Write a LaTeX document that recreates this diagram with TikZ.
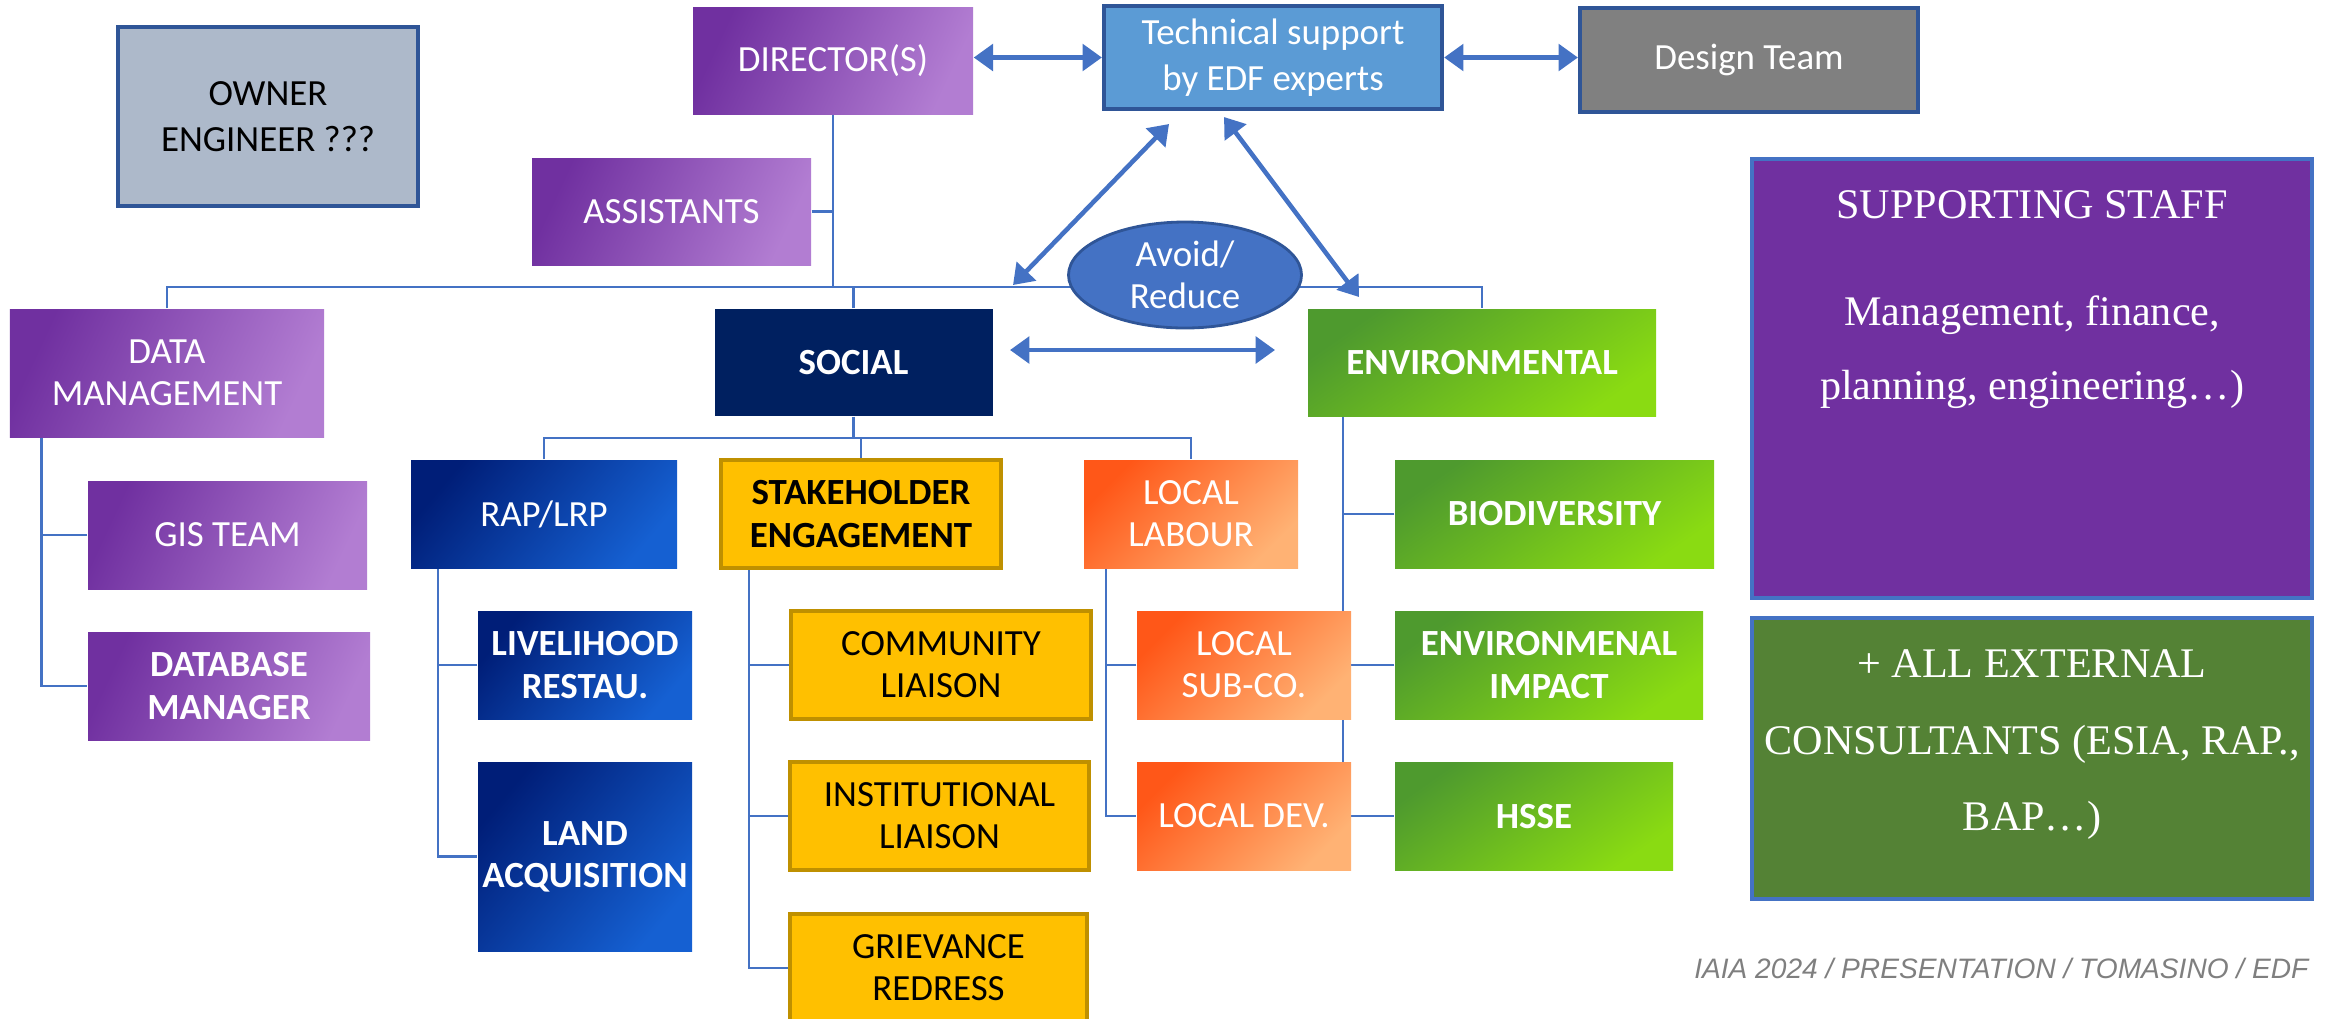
\documentclass[tikz,border=0pt]{standalone}
\usepackage{fontspec}
\setmainfont{Carlito}
\newfontfamily\serifface{Liberation Serif}
\newfontfamily\footface{Liberation Sans}
\usepackage{xcolor}
\usepackage{tikz}
\usetikzlibrary{arrows.meta, positioning, shapes.geometric, backgrounds}

\definecolor{linkblue}{HTML}{4472C4}
\definecolor{edgeblue}{HTML}{2F5597}
\definecolor{purpD}{HTML}{7030A0}
\definecolor{purpL}{HTML}{B27DD2}
\definecolor{navy}{HTML}{002060}
\definecolor{blueD}{HTML}{001E78}
\definecolor{blueL}{HTML}{1560D2}
\definecolor{greenD}{HTML}{4E9A2E}
\definecolor{greenL}{HTML}{8ADB12}
\definecolor{orangeD}{HTML}{FF5718}
\definecolor{orangeL}{HTML}{FFB274}
\definecolor{goldfill}{HTML}{FFC000}
\definecolor{goldedge}{HTML}{BF9000}
\definecolor{ownerfill}{HTML}{ADB9CA}
\definecolor{techfill}{HTML}{5B9BD5}
\definecolor{extgreen}{HTML}{548235}
\definecolor{creditgray}{HTML}{7F7F7F}

\begin{document}
\begin{tikzpicture}[
      y=-1cm,
      font=\fontsize{10.5}{12}\selectfont,
      wh/.style 2 args={minimum width=#1cm, minimum height=#2cm},
      box/.style={rectangle, align=center, inner sep=0pt, text=white},
      pbox/.style={box, left color=purpD, right color=purpL, shading angle=65},
      nbox/.style={box, fill=navy, font=\fontsize{10.5}{12}\selectfont\bfseries},
      bbox/.style={box, left color=blueD, right color=blueL, shading angle=50},
      gbox/.style={box, left color=greenD, right color=greenL, shading angle=35,
                   font=\fontsize{10.5}{12}\selectfont\bfseries},
      obox/.style={box, left color=orangeD, right color=orangeL, shading angle=45},
      ybox/.style={box, fill=goldfill, draw=goldedge, line width=1pt, text=black},
      sidebox/.style={box, draw=edgeblue, line width=1.2pt},
      bigbox/.style={rectangle, draw=linkblue, line width=1.2pt, inner sep=0pt},
      bigtext/.style={align=center, inner sep=0pt, text=white,
                      font=\serifface\fontsize{12}{21.8}\selectfont},
      link/.style={draw=linkblue, line width=0.7pt},
      arr/.style={linkblue, line width=1.3pt,
                  {Triangle[length=5.5pt, width=7.5pt]}-{Triangle[length=5.5pt, width=7.5pt]}},
  ]
  \useasboundingbox (0,0) rectangle (23.25,10.18);

  %% top row
  \node[sidebox, fill=ownerfill, text=black, wh={3.00}{1.79},
        font=\fontsize{10.5}{13}\selectfont] (owner) at (2.68,1.165) {OWNER\\ENGINEER ???};
  \node[pbox, wh={2.80}{1.07}] (director) at (8.33,0.605) {DIRECTOR(S)};
  \node[sidebox, fill=techfill, wh={3.38}{1.03},
        font=\fontsize{10.5}{13}\selectfont] (tech) at (12.73,0.575) {Technical support\\by EDF experts};
  \node[sidebox, fill=gray, wh={3.38}{1.04}] (design) at (17.49,0.60) {Design Team};
  \node[pbox, wh={2.79}{1.07}] (assist) at (6.715,2.115) {ASSISTANTS};

  %% second level
  \node[pbox, wh={3.14}{1.28}] (datamgmt) at (1.67,3.73) {DATA\\MANAGEMENT};
  \node[nbox, wh={2.78}{1.07}] (social) at (8.535,3.625) {SOCIAL};
  \node[gbox, wh={3.48}{1.07}] (env) at (14.82,3.625) {ENVIRONMENTAL};
  \node[ellipse, draw=edgeblue, fill=linkblue, line width=0.8pt, inner sep=0pt,
        text=white, align=center, wh={2.33}{1.06}] (avoid) at (11.85,2.75) {Avoid/\\Reduce};

  %% data management
  \node[pbox, wh={2.79}{1.08}] (gis) at (2.275,5.35) {GIS TEAM};
  \node[pbox, wh={2.82}{1.08}, font=\fontsize{10.5}{12}\selectfont\bfseries] (dbman) at (2.29,6.86) {DATABASE\\MANAGER};

  %% social teams
  \node[bbox, wh={2.66}{1.08}] (rap) at (5.44,5.14) {RAP/LRP};
  \node[ybox, wh={2.80}{1.08}, font=\fontsize{10.5}{12}\selectfont\bfseries] (stake) at (8.61,5.14) {STAKEHOLDER\\ENGAGEMENT};
  \node[obox, wh={2.14}{1.08}] (labour) at (11.91,5.14) {LOCAL\\LABOUR};
  \node[bbox, wh={2.14}{1.08}, font=\fontsize{10.5}{12}\selectfont\bfseries] (livelihood) at (5.85,6.65) {LIVELIHOOD\\RESTAU.};
  \node[bbox, wh={2.14}{1.89}, font=\fontsize{10.5}{12}\selectfont\bfseries] (landacq) at (5.85,8.565) {LAND\\ACQUISITION};
  \node[ybox, wh={3.00}{1.08}] (community) at (9.41,6.65) {COMMUNITY\\LIAISON};
  \node[ybox, wh={2.99}{1.08}] (institutional) at (9.395,8.16) {INSTITUTIONAL\\LIAISON};
  \node[ybox, wh={2.97}{1.08}] (grievance) at (9.385,9.68) {GRIEVANCE\\REDRESS};
  \node[obox, wh={2.14}{1.08}] (subco) at (12.44,6.65) {LOCAL\\SUB-CO.};
  \node[obox, wh={2.14}{1.08}] (localdev) at (12.44,8.16) {LOCAL DEV.};

  %% environmental teams
  \node[gbox, wh={3.19}{1.08}] (biodiv) at (15.545,5.14) {BIODIVERSITY};
  \node[gbox, wh={3.08}{1.08}] (envimpact) at (15.49,6.65) {ENVIRONMENAL\\IMPACT};
  \node[gbox, wh={2.78}{1.08}] (hsse) at (15.34,8.16) {HSSE};

  %% right hand panels
  \node[bigbox, fill=purpD, wh={5.60}{4.39}] (staff) at (20.32,3.785) {};
  \node[bigtext, below=0.33cm of staff.north, font=\serifface\fontsize{12}{21}\selectfont] (stafftext)
       {SUPPORTING STAFF\\[9.5pt]Management, finance,\\planning, engineering…)};
  \node[bigbox, fill=extgreen, wh={5.60}{2.81}] (external) at (20.32,7.585) {};
  \node[bigtext, below=0.33cm of external.north] (exttext)
       {+ ALL EXTERNAL\\CONSULTANTS (ESIA, RAP.,\\BAP…)};

  \node[anchor=base east, inner sep=0pt, text=creditgray,
        font=\footface\itshape\fontsize{8}{9.6}\selectfont] (credit) at (23.09,9.78)
       {IAIA 2024 / PRESENTATION / TOMASINO / EDF};

  %% helper coordinates
  \coordinate (topbus) at (0,2.87);
  \coordinate (socbus) at (0,4.38);
  \coordinate (dmspine) at (0.415,0);
  \coordinate (rapspine) at (4.38,0);
  \coordinate (skspine) at (7.49,0);
  \coordinate (lbspine) at (11.06,0);
  \coordinate (envspine) at (13.43,0);

  %% tree lines
  \begin{scope}[on background layer]
    \draw[link] (director.south) -- (director.south |- topbus);
    \draw[link] (assist.east) -- (assist.east -| director.south);
    \draw[link] (datamgmt.north) |- (env.north |- topbus) -- (env.north);
    \draw[link] (social.north) -- (social.north |- topbus);

    \draw[link] (social.south) -- (social.south |- socbus);
    \draw[link] (rap.north) |- (labour.north |- socbus) -- (labour.north);
    \draw[link] (stake.north) -- (stake.north |- socbus);

    \draw[link] (datamgmt.south -| dmspine) |- (dbman.west);
    \draw[link] (gis.west) -- (gis.west -| dmspine);
    \draw[link] (rap.south -| rapspine) |- (landacq.west);
    \draw[link] (livelihood.west) -- (livelihood.west -| rapspine);
    \draw[link] (stake.south -| skspine) |- (grievance.west);
    \draw[link] (community.west) -- (community.west -| skspine);
    \draw[link] (institutional.west) -- (institutional.west -| skspine);
    \draw[link] (labour.south -| lbspine) |- (localdev.west);
    \draw[link] (subco.west) -- (subco.west -| lbspine);
    \draw[link] (env.south -| envspine) |- (hsse.west);
    \draw[link] (biodiv.west) -- (biodiv.west -| envspine);
    \draw[link] (envimpact.west) -- (envimpact.west -| envspine);
  \end{scope}

  %% arrows
  \coordinate (techL) at (11.69,1.24);
  \coordinate (techR) at (12.24,1.17);
  \coordinate (socup) at (10.13,2.85);
  \coordinate (envup) at (13.59,2.97);
  \coordinate (socR) at (10.10,3.50);
  \coordinate (envL) at (12.75,3.50);

  \draw[arr] (tech.west -| director.east) -- (tech.west);
  \draw[arr] (tech.east) -- (tech.east -| design.west);
  \draw[arr] (techL) -- (socup);
  \draw[arr] (techR) -- (envup);
  \draw[arr] (socR) -- (envL);

\end{tikzpicture}
\end{document}
